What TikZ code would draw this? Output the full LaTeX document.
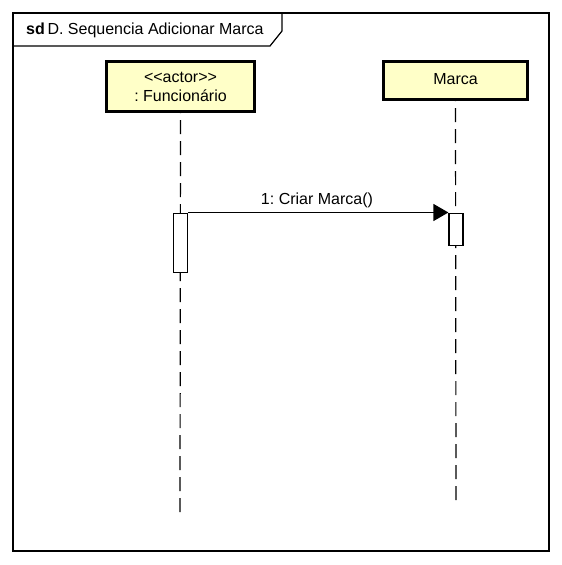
\documentclass[tikz,border=0pt]{standalone}
\usepackage{fontspec}
\setmainfont{Liberation Sans}
\usetikzlibrary{arrows.meta}
\definecolor{boxfill}{RGB}{255,255,200}
\frenchspacing
\tikzset{
  px/.style={x=1pt,y=-1pt},
  lifehead/.style={draw=black,line width=3pt,fill=boxfill,minimum height=52pt,inner sep=0pt,font=\fontsize{16}{19}\selectfont,align=center},
  lifeline/.style={draw=black,line width=1.2pt,dash pattern=on 14pt off 7pt},
  actbox/.style={draw=black,line width=1.2pt,fill=white,inner sep=0pt},
  msg/.style={draw=black,line width=1.2pt,-{Triangle[length=15pt,width=17pt]}},
  txt/.style={font=\fontsize{16}{19}\selectfont,inner sep=0pt}
}
\begin{document}
\begin{tikzpicture}[px]
\useasboundingbox (0,0) rectangle (562,565);
\fill[white] (0,0) rectangle (562,565);
% frame
\draw[line width=1.2pt] (13,13) rectangle (549,551);
\draw[line width=1.2pt] (13,46) -- (270,46) -- (282,31) -- (282,13);
\node[txt,anchor=west] (title) at (26,30.5) {\textbf{sd}\,D. Sequencia Adicionar Marca};
% lifeline heads
\node[lifehead,minimum width=148pt,minimum height=50pt] (actor) at (180.5,86.5) {\fontsize{16}{21}\selectfont <{}<actor>{}>\\: Funcionário};
\node[lifehead,minimum width=144pt,minimum height=38pt] (marca) at (455.5,80.5) {\raisebox{3pt}{Marca}};
% lifeline ends
\coordinate (actorend) at (180,512);
\coordinate (marcaend) at (456,500);
\draw[lifeline] (actorend) -- (actor.south);
\draw[lifeline] (marcaend) -- (marca.south);
% activations
\node[actbox,minimum width=14pt,minimum height=59pt,anchor=north] (act1) at (180.5,212.5) {};
\node[actbox,minimum width=14pt,minimum height=32pt,anchor=north] (act2) at (456,212.5) {};
% message
\draw[msg] (act1.north east) -- (act2.north west);
\node[txt,anchor=south] (msglabel) at (317,208) {1: Criar Marca()};
\end{tikzpicture}
\end{document}
